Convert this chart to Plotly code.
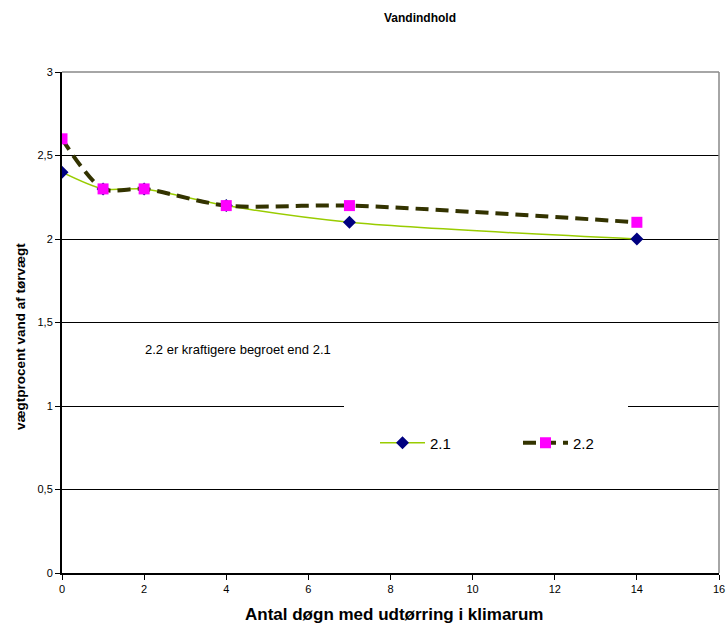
import plotly.graph_objects as go

days = [0, 1, 2, 4, 7, 14]
s21 = [2.4, 2.3, 2.3, 2.2, 2.1, 2.0]
s22 = [2.6, 2.3, 2.3, 2.2, 2.2, 2.1]
names = ["2.1", "2.2"]

FONT = "Liberation Sans, Arial, sans-serif"

fig = go.Figure()
fig.add_trace(go.Scatter(
    x=days, y=s21, name=names[0], mode="lines+markers",
    line=dict(color="#99CC00", width=1.5, shape="spline", smoothing=0.8),
    marker=dict(symbol="diamond", color="#000080", size=10, line=dict(width=0)),
))
fig.add_trace(go.Scatter(
    x=days, y=s22, name=names[1], mode="lines+markers",
    line=dict(color="#333300", width=4, shape="spline", smoothing=0.8, dash="13px,7px"),
    marker=dict(symbol="square", color="#FF00FF", size=11, line=dict(width=0)),
))

fig.update_layout(
    width=728, height=625,
    margin=dict(l=62, r=9, t=72, b=52, autoexpand=False),
    paper_bgcolor="white", plot_bgcolor="white",
    separators=", ",
    font=dict(family=FONT, color="black", size=11),
    title=dict(text="<b>Vandindhold</b>", x=420/728, xanchor="center",
               y=1-18/625, yanchor="middle", font=dict(size=12, family=FONT)),
    showlegend=True,
    legend=dict(orientation="h", x=(375-62)/657, xanchor="left",
                y=(573-443)/501, yanchor="middle",
                bgcolor="rgba(0,0,0,0)", font=dict(size=15, family=FONT),
                entrywidth=83, entrywidthmode="pixels", itemwidth=45),
    xaxis=dict(range=[0, 16], dtick=2, tick0=0, showgrid=False, zeroline=False,
               showline=True, linecolor="black", linewidth=2,
               ticks="outside", ticklen=5, tickcolor="black", tickwidth=1,
               tickfont=dict(size=11)),
    yaxis=dict(range=[0, 3], dtick=0.5, tick0=0, showgrid=True, gridcolor="black",
               gridwidth=1, zeroline=False,
               showline=True, linecolor="black", linewidth=2,
               ticks="outside", ticklen=5, tickcolor="black", tickwidth=1,
               tickfont=dict(size=11)),
    shapes=[
        dict(type="rect", xref="paper", yref="paper",
             x0=(344-62)/657, x1=(628-62)/657, y0=(573-480)/501, y1=(573-395)/501,
             fillcolor="white", line=dict(width=0), layer="above"),
        dict(type="line", xref="paper", yref="paper", x0=0, x1=1, y0=1, y1=1,
             line=dict(color="#888888", width=1.5), layer="above"),
        dict(type="line", xref="paper", yref="paper", x0=1, x1=1, y0=0, y1=1,
             line=dict(color="#888888", width=1.5), layer="above"),
    ],
    annotations=[
        dict(text="2.2 er kraftigere begroet end 2.1", xref="paper", yref="paper",
             x=(143-62)/657, y=(573-349)/501, xanchor="left", yanchor="middle",
             showarrow=False, font=dict(size=13, family=FONT)),
        dict(text="<b>Antal døgn med udtørring i klimarum</b>", xref="paper", yref="paper",
             x=(393.5-62)/657, y=(573-614)/501, xanchor="center", yanchor="middle",
             showarrow=False, font=dict(size=17, family=FONT)),
        dict(text="<b>vægtprocent vand af tørvægt</b>", xref="paper", yref="paper",
             x=(20-62)/657, y=(573-337)/501, xanchor="center", yanchor="middle",
             textangle=-90, showarrow=False, font=dict(size=13.5, family=FONT)),
    ],
)

fig.write_html("out.html")
